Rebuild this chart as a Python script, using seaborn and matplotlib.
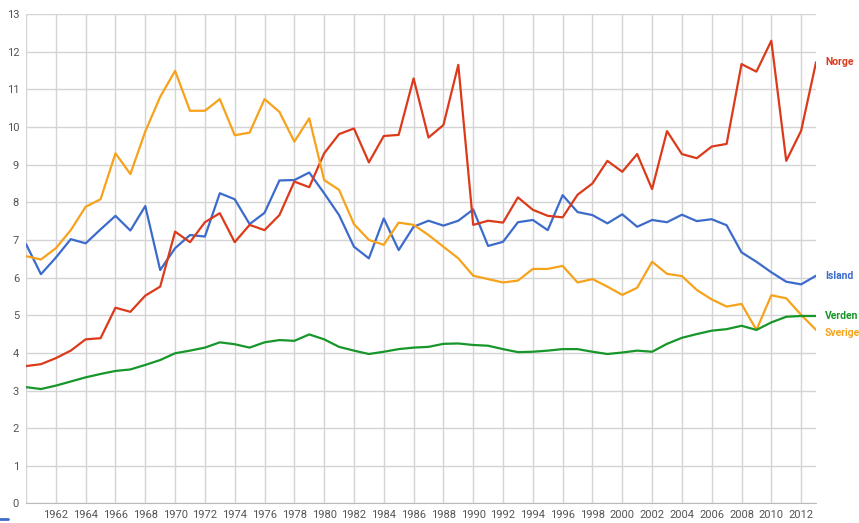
import matplotlib
matplotlib.use("Agg")
import matplotlib.pyplot as plt
from matplotlib.ticker import MultipleLocator
import seaborn as sns
import pandas as pd

# data
years = list(range(1960, 2014))
norge = [3.65, 3.70, 3.86, 4.06, 4.36, 4.39, 5.20, 5.09, 5.52, 5.76,
         7.22, 6.94, 7.47, 7.71, 6.94, 7.40, 7.26, 7.66, 8.55, 8.40,
         9.30, 9.81, 9.96, 9.06, 9.76, 9.79, 11.29, 9.72, 10.05, 11.65,
         7.40, 7.51, 7.46, 8.13, 7.80, 7.64, 7.60, 8.20, 8.50, 9.10,
         8.81, 9.28, 8.35, 9.89, 9.28, 9.17, 9.48, 9.55, 11.67, 11.47,
         12.29, 9.10, 9.90, 11.72]
island = [6.89, 6.09, 6.53, 7.02, 6.91, 7.28, 7.64, 7.25, 7.90, 6.20,
          6.78, 7.13, 7.09, 8.24, 8.08, 7.42, 7.72, 8.58, 8.59, 8.79,
          8.24, 7.66, 6.82, 6.51, 7.57, 6.73, 7.35, 7.51, 7.38, 7.51,
          7.81, 6.84, 6.95, 7.47, 7.53, 7.26, 8.19, 7.74, 7.66, 7.44,
          7.68, 7.35, 7.53, 7.47, 7.67, 7.50, 7.55, 7.39, 6.67, 6.42,
          6.14, 5.89, 5.82, 6.05]
sverige = [6.57, 6.48, 6.78, 7.26, 7.88, 8.08, 9.30, 8.75, 9.88, 10.80,
           11.49, 10.43, 10.43, 10.74, 9.78, 9.85, 10.74, 10.40, 9.61, 10.23,
           8.59, 8.33, 7.42, 7.00, 6.87, 7.46, 7.40, 7.13, 6.82, 6.51,
           6.05, 5.96, 5.87, 5.92, 6.23, 6.23, 6.31, 5.87, 5.96, 5.76,
           5.54, 5.73, 6.42, 6.10, 6.04, 5.67, 5.42, 5.23, 5.30, 4.61,
           5.53, 5.45, 5.01, 4.61]
verden = [3.09, 3.04, 3.13, 3.24, 3.35, 3.44, 3.52, 3.56, 3.68, 3.81,
          3.99, 4.06, 4.14, 4.28, 4.23, 4.14, 4.28, 4.34, 4.32, 4.49,
          4.36, 4.16, 4.06, 3.97, 4.03, 4.10, 4.14, 4.16, 4.24, 4.25,
          4.21, 4.19, 4.10, 4.02, 4.03, 4.06, 4.10, 4.10, 4.03, 3.97,
          4.01, 4.06, 4.03, 4.24, 4.40, 4.50, 4.59, 4.63, 4.72, 4.61,
          4.81, 4.96, 4.98, 4.98]

serier = ["Island", "Norge", "Sverige", "Verden"]
farger = {"Island": "#3d6bcc", "Norge": "#db3a1b", "Sverige": "#f7a21b", "Verden": "#17962a"}

df = pd.concat([
    pd.DataFrame({"aar": years, "verdi": v, "land": n})
    for n, v in zip(serier, [island, norge, sverige, verden])
])

sns.set_style("white")
plt.rcParams["font.family"] = ["Roboto", "DejaVu Sans"]

fig = plt.figure(figsize=(8.59, 5.23), dpi=100)
ax = fig.add_axes([0.0303, 0.0373, 0.9197, 0.9359])

sns.lineplot(data=df, x="aar", y="verdi", hue="land", palette=farger,
             linewidth=1.6, legend=False, ax=ax)

ax.set_xlim(1960, 2013)
ax.set_ylim(0, 13)
ax.xaxis.set_minor_locator(MultipleLocator(1))
ax.yaxis.set_major_locator(MultipleLocator(1))
ax.set_xticks(range(1960, 2013, 2))
ax.set_xticklabels([""] + [str(a) for a in range(1962, 2013, 2)])
ax.grid(True, which="major", color="#d4d4d4", linewidth=1)
ax.set_axisbelow(True)
for s in ["top", "right", "left"]:
    ax.spines[s].set_visible(False)
ax.spines["bottom"].set_color("#bbbbbb")
ax.tick_params(axis="both", which="major", length=0, labelsize=8, labelcolor="#555555")
ax.tick_params(axis="x", which="minor", length=3, color="#c4c4c4", direction="in")
ax.tick_params(axis="x", pad=5)
ax.tick_params(axis="y", pad=5)
ax.set_xlabel("")
ax.set_ylabel("")

# etiketter ved siste punkt
for n, v in zip(serier, [island, norge, sverige, verden]):
    dy = -2 if n == "Sverige" else 0
    ax.annotate(n, xy=(years[-1], v[-1]), xytext=(6.5, dy), textcoords="offset points",
                ha="left", va="center", color=farger[n], fontsize=7.5,
                fontweight="bold", annotation_clip=False)

fig.add_artist(plt.Line2D([0.0, 0.009], [0.008, 0.008], color="#3d6bcc", linewidth=2))

fig.savefig("out.png", dpi=100)
